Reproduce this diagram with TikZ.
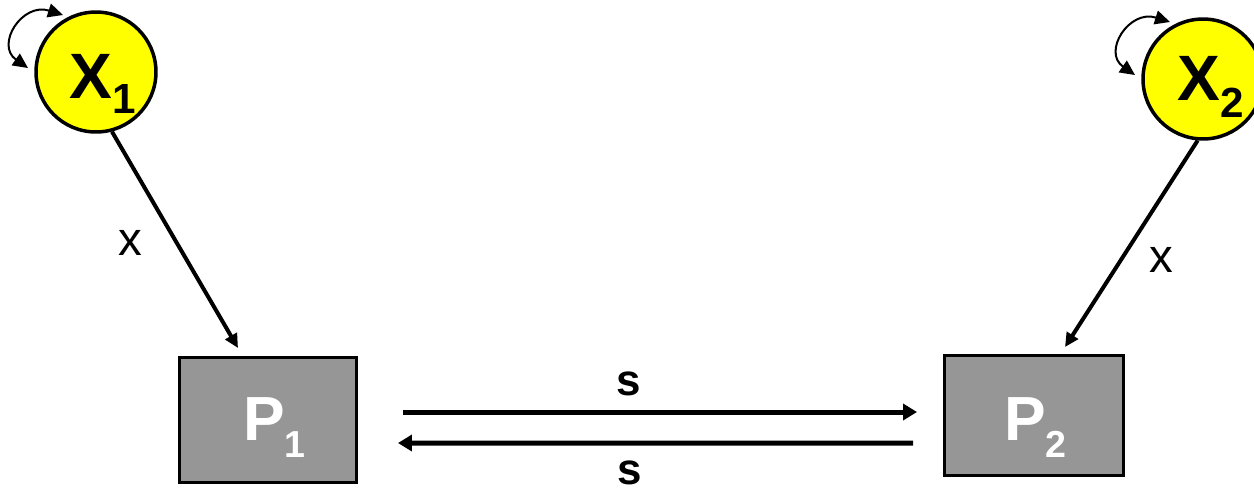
\documentclass[tikz,border=0pt]{standalone}
\usepackage{fontspec}
\setmainfont{Liberation Sans}
\usetikzlibrary{arrows.meta,calc}
\definecolor{stateyellow}{RGB}{255,255,0}
\definecolor{boxgray}{RGB}{150,150,150}
\newcommand{\sublabel}[4]{#1\raisebox{-#4}{\fontsize{#3}{#3}\selectfont #2}}

\begin{document}
\begin{tikzpicture}[x=0.02cm, y=-0.02cm,
  xstate/.style={draw, circle, fill=stateyellow, line width=0.07cm, minimum size=2.4cm, inner sep=0},
  pbox/.style={draw, rectangle, fill=boxgray, line width=0.06cm, inner sep=0},
  statetxt/.style={inner sep=0, anchor=base west, font=\bfseries\fontsize{36.5}{40}\selectfont},
  boxtxt/.style={inner sep=0, anchor=base west, text=white, font=\bfseries\fontsize{35.5}{40}\selectfont},
  conn/.style={line width=0.08cm, -{Triangle[length=0.28cm,width=0.26cm]}},
  sconn/.style={line width=0.1cm, -{Triangle[length=0.28cm,width=0.32cm]}},
  selfarc/.style={line width=0.04cm, {Triangle[length=0.3cm,width=0.28cm]}-{Triangle[length=0.3cm,width=0.28cm]}},
  wlabel/.style={font=\fontsize{27}{30}\selectfont, inner sep=0},
  slabel/.style={font=\bfseries\fontsize{25}{28}\selectfont, inner sep=0},
]
\useasboundingbox (0,0) rectangle (1254,488);

% states
\node[xstate] (x1) at (96,72) {};
\node[xstate] (x2) at (1203,79) {};
\node[statetxt] (x1txt) at (69.5,98) {\sublabel{X}{1}{24}{0.30cm}};
\node[statetxt] (x2txt) at (1177.5,100) {\sublabel{X}{2}{24}{0.34cm}};
\draw[selfarc] ($(x1.center)+(-68,-4)$) .. controls ($(x1.center)+(-101,-27)$) and ($(x1.center)+(-74,-70)$) .. ($(x1.center)+(-33,-57)$);
\draw[selfarc] ($(x2.center)+(-68,-4)$) .. controls ($(x2.center)+(-101,-27)$) and ($(x2.center)+(-74,-70)$) .. ($(x2.center)+(-33,-57)$);

% boxes
\node[pbox, minimum width=3.54cm, minimum height=2.5cm] (p1) at (268,420) {};
\node[pbox, minimum width=3.58cm, minimum height=2.4cm] (p2) at (1034,415.5) {};
\node[boxtxt] (p1txt) at (243,440) {\sublabel{P}{1}{21.4}{0.34cm}};
\node[boxtxt] (p2txt) at (1004,440) {\sublabel{P}{2}{21.4}{0.34cm}};

% connectors
\draw[conn] (x1.-75) -- ($(p1.north west)+(60,-8)$);
\draw[conn] (x2.-95) -- ($(p2.north west)+(122,-7)$);
\node[wlabel] (w1) at (130,243) {x};
\node[wlabel] (w2) at (1161,260) {x};

\draw[sconn] ($(p1.east)+(45,-8)$) -- node[slabel, pos=0.44, above=0.27cm] (s12) {s} ($(p2.west)+(-26,-3.5)$);
\draw[sconn] ($(p2.west)+(-30,27.5)$) -- node[slabel, pos=0.55, below=0.3cm] (s21) {s} ($(p1.east)+(40,23)$);
\end{tikzpicture}
\end{document}
